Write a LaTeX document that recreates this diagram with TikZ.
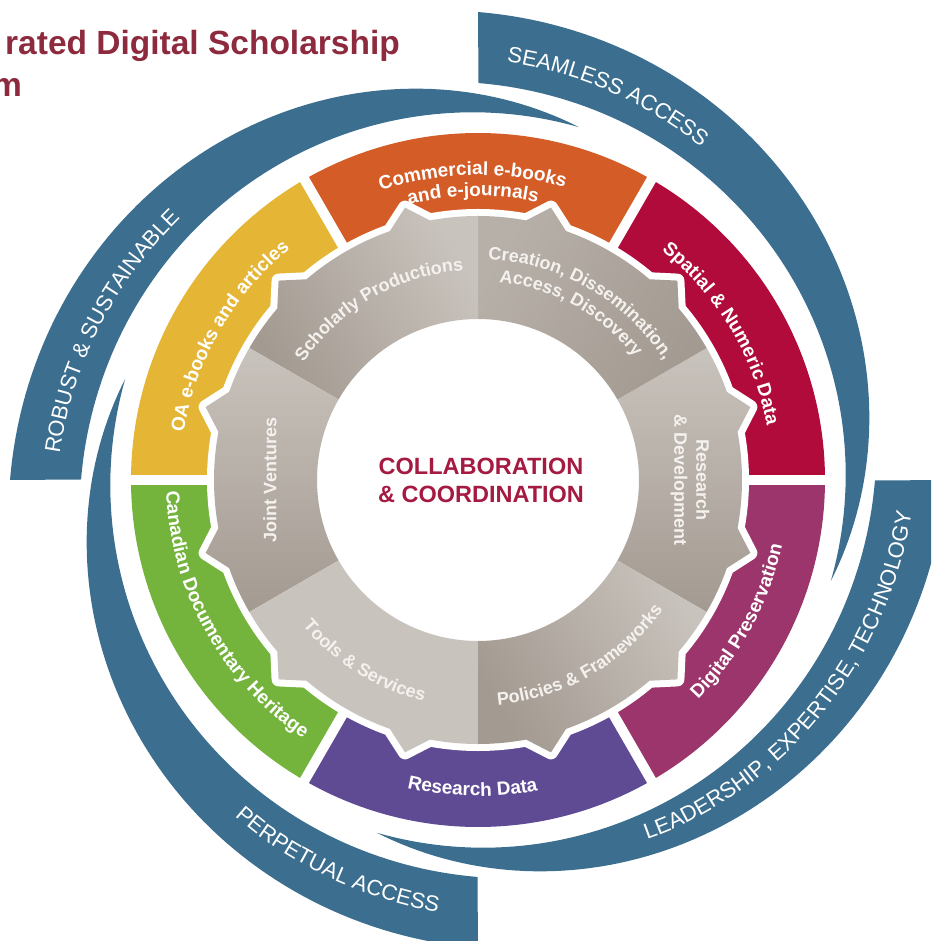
\documentclass[tikz,border=0pt]{standalone}
\usepackage{fontspec}
\setmainfont{Liberation Sans}
\usetikzlibrary{decorations.text}

\definecolor{bandblue}{HTML}{3B6E8F}
\definecolor{segorange}{HTML}{D45C27}
\definecolor{segred}{HTML}{B00B3B}
\definecolor{segmagenta}{HTML}{9B356B}
\definecolor{segpurple}{HTML}{5F4A94}
\definecolor{seggreen}{HTML}{74B43D}
\definecolor{segyellow}{HTML}{E5B636}
\definecolor{centerred}{HTML}{A51A41}
\definecolor{titlered}{HTML}{8D2A3E}
\definecolor{grayL}{HTML}{C9C3BD}
\definecolor{grayM}{HTML}{B7B0A9}
\definecolor{grayD}{HTML}{A39A91}
\definecolor{gearwhite}{HTML}{F4F1EE}

\newcommand{\bandfont}{\fontsize{22}{22}\selectfont}
\newcommand{\segfont}{\fontsize{19}{19}\selectfont\bfseries}
\newcommand{\gearfont}{\fontsize{18}{18}\selectfont\bfseries}

\tikzset{
  declare function={bandout(\t)=367+101*(1-\t)+30*\t*(1-\t);
                    bandin(\t)=367+30*(1-\t)^2;
                    bandmid(\t)=(bandout(\t)+bandin(\t))/2;},
  bandlabel/.style={decorate, decoration={text along path, text align=center,
      text color=white, text={|\bandfont|#1}}},
  seglabel/.style={decorate, decoration={text along path, text align=center,
      text color=white, text={|\segfont|#1}}},
  gearlabel/.style={decorate, decoration={text along path, text align=center,
      text color=gearwhite, text={|\gearfont|#1}}},
  gearnode/.style={inner sep=0pt, text=gearwhite,
      font=\fontsize{18}{22}\selectfont\bfseries},
}

\begin{document}
\begin{tikzpicture}[x=1pt, y=1pt]
  \useasboundingbox (-478,-461) rectangle (453,480);
  \clip (-478,-461) rectangle (453,480);

  % outer bands, each one starts flat and runs clockwise into a point
  \foreach \ang in {90,0,-90,180}
  \fill[bandblue] plot[domain=0:1, samples=80] ({\ang-106*\x}:{bandout(\x)})
    -- plot[domain=0:1, samples=80] ({\ang-106*(1-\x)}:{bandin(1-\x)}) -- cycle;

  % coloured ring
  \foreach \a/\col in {0/segred,60/segorange,120/segyellow,180/seggreen,240/segpurple,300/segmagenta}
  \fill[\col] (\a:262) arc[start angle=\a, end angle=\a+60, radius=262]
    -- (\a+60:347) arc[start angle=\a+60, end angle=\a, radius=347] -- cycle;
  \foreach \a in {0,60,...,300}
  \draw[white, line width=10] (\a:250) -- (\a:360);

  % white rim round the gear
  \draw[white, line width=14, line join=round] (0:264)
    \foreach \a in {0,30,...,330} {arc[start angle=\a, end angle=\a+10.5, radius=264]
    -- (\a+15:282) -- (\a+19.5:264) arc[start angle=\a+19.5, end angle=\a+30, radius=264]} -- cycle;

  % gear sectors
  \foreach \a/\ca/\cb in {-30/grayD/grayL, 30/grayD/grayM, 90/grayL/grayD,
                          150/grayL/grayD, 210/grayL/grayL, 270/grayD/grayL}
  \shade[bottom color=\ca, top color=\cb, shading angle=\a+30]
    (\a:161) -- (\a:264) arc[start angle=\a, end angle=\a+10.5, radius=264]
    -- (\a+15:282) -- (\a+19.5:264) arc[start angle=\a+19.5, end angle=\a+40.5, radius=264]
    -- (\a+45:282) -- (\a+49.5:264) arc[start angle=\a+49.5, end angle=\a+60, radius=264]
    -- (\a+60:161) arc[start angle=\a+60, end angle=\a, radius=161] -- cycle;

  % band labels
  \path[bandlabel={SEAMLESS ACCESS}]
    plot[domain=-0.257:0.643, samples=50] ({90-106*\x}:{bandmid(\x)-11});
  \path[bandlabel={ROBUST {\&} SUSTAINABLE}]
    plot[domain=-0.224:0.676, samples=50] ({180-106*\x}:{bandmid(\x)-11});
  \path[bandlabel={LEADERSHIP, EXPERTISE, TECHNOLOGY}]
    plot[domain=-0.45:0.45, samples=50] ({-106*(0.335-\x)}:{bandmid(0.335-\x)+5});
  \path[bandlabel={PERPETUAL ACCESS}]
    plot[domain=-0.45:0.45, samples=50] ({-90-106*(0.208-\x)}:{bandmid(0.208-\x)+5});

  % ring labels
  \path[seglabel={Commercial e-books}] (141:305) arc[start angle=141, end angle=41, radius=305];
  \path[seglabel={and e-journals}] (141:284) arc[start angle=141, end angle=41, radius=284];
  \path[seglabel={Spatial {\&} Numeric Data}] (81:294) arc[start angle=81, end angle=-19, radius=294];
  \path[seglabel={Digital Preservation}] (-78.5:311) arc[start angle=-78.5, end angle=21.5, radius=311];
  \path[seglabel={Research Data}] (-141:316) arc[start angle=-141, end angle=-41, radius=316];
  \path[seglabel={Canadian Documentary Heritage}] (159:312) arc[start angle=159, end angle=259, radius=312];
  \path[seglabel={OA e-books and articles}] (200:298) arc[start angle=200, end angle=100, radius=298];

  % gear labels
  \path[gearlabel={Scholarly Productions}] (170:210) arc[start angle=170, end angle=70, radius=210];
  \path[gearlabel={Creation, Dissemination,}] (110:221) arc[start angle=110, end angle=10, radius=221];
  \path[gearlabel={Access, Discovery}] (111:199) arc[start angle=111, end angle=11, radius=199];
  \path[gearlabel={Tools {\&} Services}] (188:228) arc[start angle=188, end angle=288, radius=228];
  \path[gearlabel={Policies {\&} Frameworks}] (-110:226) arc[start angle=-110, end angle=-10, radius=226];
  \node[gearnode, rotate=90] (joint) at (180:208) {Joint Ventures};
  \node[gearnode, rotate=-90, align=center] (rnd) at (0:212) {Research\\\& Development};

  % centre and title
  \node[align=center, inner sep=0pt, text=centerred,
    font=\fontsize{23.5}{28}\selectfont\bfseries] (collab) at (3,0) {COLLABORATION\\\& COORDINATION};
  \node[anchor=base west, inner sep=0pt, text=titlered,
    font=\fontsize{33.5}{33.5}\selectfont\bfseries] (titleA) at (-473,425) {rated Digital Scholarship};
  \node[anchor=base east, inner sep=0pt, text=titlered,
    font=\fontsize{33.5}{33.5}\selectfont\bfseries] (titleB) at (-456,383) {m};
\end{tikzpicture}
\end{document}
